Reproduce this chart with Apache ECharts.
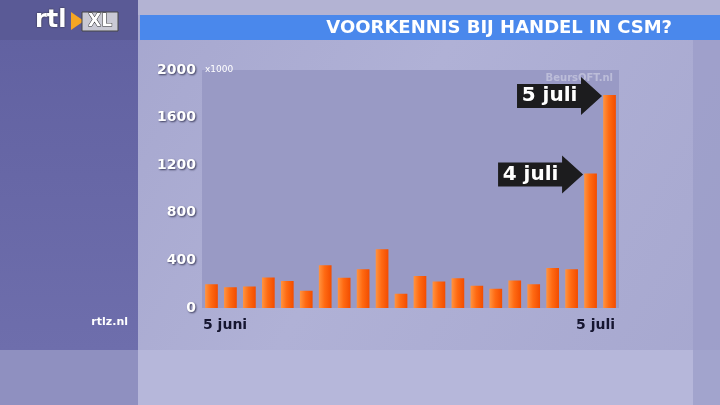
<!DOCTYPE html>
<html><head><meta charset="utf-8">
<script src="https://cdn.jsdelivr.net/npm/echarts@6/dist/echarts.min.js"></script>
<style>html,body{margin:0;padding:0;background:#a9aad0}#c{width:720px;height:405px}</style>
</head><body><div id="c"></div>
<script>
const categories = ['5 juni','6 juni','7 juni','11 juni','12 juni','13 juni','14 juni','15 juni','18 juni','19 juni','20 juni','21 juni','22 juni','25 juni','26 juni','27 juni','28 juni','29 juni','2 juli','3 juli','4 juli','5 juli'];
const volumes = [200,175,180,257,226,144,359,254,325,494,119,268,223,251,186,161,232,200,336,325,1130,1790];
const yTicks = [0,400,800,1200,1600,2000];
const annotations = [{label:'4 juli', index:20},{label:'5 juli', index:21}];
const titleText = 'VOORKENNIS BIJ HANDEL IN CSM?';
const unitText = 'x1000';

const chart = echarts.init(document.getElementById('c'));
const F = '"DejaVu Sans", sans-serif';
const arrowPath = 'path://M0,7 L64,7 L64,0 L85,19 L64,38 L64,31 L0,31 Z';

const baseGraphic = [
    {type:'rect', z:-20, shape:{x:0,y:0,width:720,height:405}, style:{fill:new echarts.graphic.LinearGradient(0,0,1,1,[{offset:0,color:'#a2a3cc'},{offset:0.5,color:'#b0b1d6'},{offset:1,color:'#a6a7cf'}])}},
    {type:'rect', z:-19, shape:{x:0,y:350,width:720,height:55}, style:{fill:'#b6b7da'}},
    {type:'rect', z:-19, shape:{x:0,y:350,width:138,height:55}, style:{fill:'#8f90c0'}},
    {type:'rect', z:-19, shape:{x:693,y:0,width:27,height:405}, style:{fill:'#9a9bc8', opacity:0.7}},
    {type:'rect', z:-18, shape:{x:0,y:0,width:138,height:350}, style:{fill:new echarts.graphic.LinearGradient(0,0,0,1,[{offset:0,color:'#6060a0'},{offset:1,color:'#6e6eac'}])}},
    {type:'rect', z:-17, shape:{x:0,y:0,width:138,height:40}, style:{fill:'#5a5a96'}},
    {type:'rect', z:-18, shape:{x:138,y:0,width:582,height:15}, style:{fill:'#b3b3d3'}},
    {type:'rect', z:-17, shape:{x:140,y:15,width:580,height:25}, style:{fill:'#4a88ec'}},
    {type:'text', z:1, x:672, y:28, style:{text:titleText, font:'bold 18px '+F, fill:'#ffffff', align:'right', verticalAlign:'middle'}},
    {type:'text', z:1, x:35, y:21, style:{text:'rtl', font:'bold 24px '+F, fill:'#ffffff', verticalAlign:'middle', textShadowColor:'#222', textShadowBlur:2}},
    {type:'polygon', z:1, shape:{points:[[71,12],[84,21],[71,30]]}, style:{fill:'#f5a623'}},
    {type:'rect', z:1, shape:{x:82,y:12,width:36,height:19}, style:{fill:'#c9c9d4', stroke:'#444', lineWidth:1}},
    {type:'text', z:2, x:100, y:22, style:{text:'XL', font:'bold 17px '+F, fill:'#ffffff', stroke:'#333', lineWidth:1, align:'center', verticalAlign:'middle'}},
    {type:'text', z:1, x:128, y:322, style:{text:'rtlz.nl', font:'bold 11px '+F, fill:'#ffffff', align:'right', verticalAlign:'middle'}},
    {type:'text', z:1, x:205, y:70, style:{text:unitText, font:'9px '+F, fill:'#ffffff', verticalAlign:'middle'}},
    {type:'text', z:1, x:613, y:78, style:{text:'BeursOFT.nl', font:'bold 10px '+F, fill:'rgba(255,255,255,0.35)', align:'right', verticalAlign:'middle'}}
];

chart.setOption({
  backgroundColor: '#a9aad0',
  animation: false,
  graphic: baseGraphic,
  grid: {left:202, right:101, top:70, bottom:97, show:true, backgroundColor:'#999ac5', borderWidth:0},
  xAxis: {
    type:'category', data:categories,
    axisLine:{show:false}, axisTick:{show:false},
    axisLabel:{show:false}
  },
  yAxis: {
    type:'value', min:yTicks[0], max:yTicks[yTicks.length-1], interval:400,
    splitLine:{show:false}, axisLine:{show:false}, axisTick:{show:false},
    axisLabel:{color:'#ffffff', fontFamily:F, fontWeight:'bold', fontSize:14, margin:6,
      formatter:(v)=>String(v),
      textShadowColor:'rgba(30,30,60,0.8)', textShadowBlur:2, textShadowOffsetX:1, textShadowOffsetY:1}
  },
  series: [{
    type:'bar', data:volumes, barCategoryGap:'33%',
    itemStyle:{color:new echarts.graphic.LinearGradient(0,0,1,0,[{offset:0,color:'#ff9440'},{offset:0.45,color:'#ff6a12'},{offset:1,color:'#f24c00'}])},
    markPoint:{
      symbol:arrowPath, symbolSize:[85,38], symbolKeepAspect:false, symbolOffset:[-50,1],
      itemStyle:{color:'#1c1c1e'},
      label:{show:true, position:'inside', offset:[-10,0], color:'#ffffff', fontFamily:F, fontWeight:'bold', fontSize:20,
        formatter:(p)=>p.name},
      data: annotations.map(a=>({name:a.label, coord:[categories[a.index], volumes[a.index]]}))
    }
  }]
});

// x tick labels: first label left-aligned to the axis start, last label right-aligned to axis end
const n = categories.length;
const p0 = chart.convertToPixel({xAxisIndex:0}, categories[0]);
const p1 = chart.convertToPixel({xAxisIndex:0}, categories[n-1]);
const band = (p1 - p0) / (n - 1);
const y0 = chart.convertToPixel({yAxisIndex:0}, 0);
const labelStyle = {font:'bold 14px '+F, fill:'#161630', verticalAlign:'middle'};
chart.setOption({graphic: baseGraphic.concat([
  {type:'text', z:1, x:p0 - band/2 + 1, y:y0 + 17, style:Object.assign({text:categories[0], align:'left'}, labelStyle)},
  {type:'text', z:1, x:p1 + band/2 - 4, y:y0 + 17, style:Object.assign({text:categories[n-1], align:'right'}, labelStyle)}
])});
</script></body></html>
